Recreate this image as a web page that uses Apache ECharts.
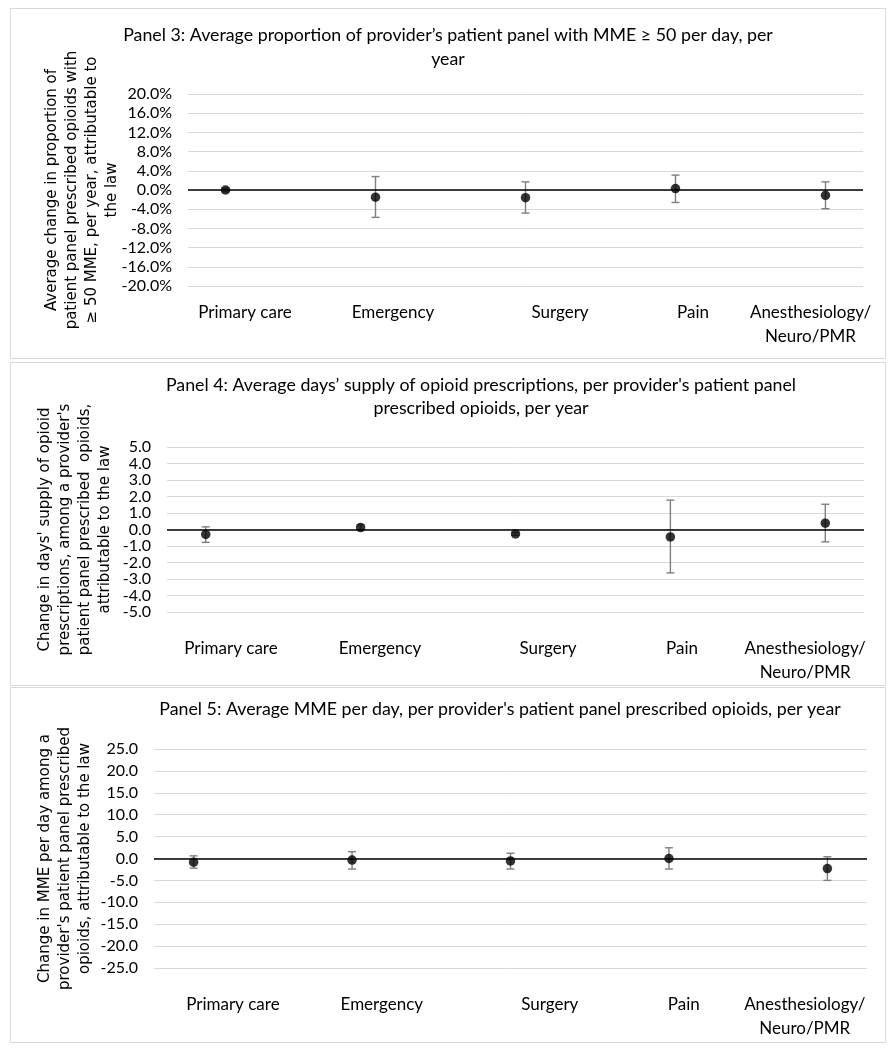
<!DOCTYPE html>
<html>
<head>
<meta charset="utf-8">
<script src="https://cdn.jsdelivr.net/npm/echarts@6/dist/echarts.min.js"></script>
<style>
html,body{margin:0;padding:0;background:#fff;}
#chart{width:895px;height:1050px;}
</style>
</head>
<body>
<div id="chart"></div>
<script>
// ---- data ----
const categories = ['Primary care', 'Emergency', 'Surgery', 'Pain', 'Anesthesiology/\nNeuro/PMR'];
const catX = [1, 2, 3, 4, 5];

const p3Title = 'Panel 3: Average proportion of provider\u2019s patient panel with MME \u2265 50 per day, per\nyear';
const p3YName = 'Average change in proportion of\npatient panel prescribed opioids with\n\u2265 50 MME, per year, attributable to\nthe law';
const p3Est = [0.0, -1.5, -1.6, 0.3, -1.1];
const p3Lo  = [-0.4, -5.7, -4.8, -2.6, -3.9];
const p3Hi  = [0.4, 2.8, 1.7, 3.1, 1.7];

const p4Title = 'Panel 4: Average days\u2019 supply of opioid prescriptions, per provider\'s patient panel\nprescribed opioids, per year';
const p4YName = 'Change in days\' supply of opioid\nprescriptions, among a provider\'s\npatient panel prescribed  opioids,\nattributable to the law';
const p4Est = [-0.30, 0.12, -0.27, -0.45, 0.38];
const p4Lo  = [-0.78, -0.02, -0.35, -2.63, -0.75];
const p4Hi  = [0.16, 0.28, -0.18, 1.78, 1.53];

const p5Title = 'Panel 5: Average MME per day, per provider\'s patient panel prescribed opioids, per year';
const p5YName = 'Change in MME per day among a\nprovider\'s patient panel prescribed\nopioids, attributable to the law';
const p5Est = [-0.85, -0.35, -0.55, 0.0, -2.3];
const p5Lo  = [-2.2, -2.4, -2.4, -2.4, -5.0];
const p5Hi  = [0.6, 1.55, 1.2, 2.45, 0.4];

// ---- layout (not data) ----
const CAL = 'Lato';
const VER = 'DejaVu Sans';
const panels = [
  {title: p3Title, yName: p3YName, est: p3Est, lo: p3Lo, hi: p3Hi,
   yMin: -20, yMax: 20, yInt: 4, pct: true,
   grid: {left: 188, top: 94, width: 675, height: 192},
   nameGap: 66, labelMargin: 15,
   labelPos: [1.13, 2.117, 3.23, 4.117, 4.9],
   titleX: 448, titleTop: 23, titleLH: 24,
   box: [10.5, 8.5, 875, 350]},
  {title: p4Title, yName: p4YName, est: p4Est, lo: p4Lo, hi: p4Hi,
   yMin: -5, yMax: 5, yInt: 1, pct: false,
   grid: {left: 167, top: 447, width: 697, height: 165},
   nameGap: 52, labelMargin: 25,
   labelPos: [1.163, 2.125, 3.21, 4.075, 4.87],
   titleX: 481, titleTop: 373.5, titleLH: 23,
   box: [10.5, 362.5, 875, 323]},
  {title: p5Title, yName: p5YName, est: p5Est, lo: p5Lo, hi: p5Hi,
   yMin: -25, yMax: 25, yInt: 5, pct: false,
   grid: {left: 154, top: 749, width: 713, height: 219},
   nameGap: 59, labelMargin: 25,
   labelPos: [1.248, 2.188, 3.248, 4.094, 4.857],
   titleX: 500, titleTop: 698, titleLH: 23,
   box: [10.5, 687.5, 875, 355]}
];

const grids = [], xAxes = [], yAxes = [], series = [], graphics = [];
panels.forEach((p, i) => {
  grids.push(Object.assign({containLabel: false}, p.grid));
  xAxes.push({
    type: 'value', gridIndex: i, min: 0.75, max: 5.25,
    axisLine: {show: false, onZero: false}, axisTick: {show: false}, splitLine: {show: false},
    axisLabel: {
      customValues: p.labelPos,
      margin: p.labelMargin,
      fontFamily: CAL, fontSize: 17, color: '#000', lineHeight: 24, align: 'center',
      formatter: function (v) {
        let best = 0, bd = Infinity;
        p.labelPos.forEach((q, k) => { const d = Math.abs(q - v); if (d < bd) { bd = d; best = k; } });
        return categories[best];
      }
    }
  });
  yAxes.push({
    type: 'value', gridIndex: i, min: p.yMin, max: p.yMax, interval: p.yInt,
    axisLine: {show: false}, axisTick: {show: false},
    splitLine: {lineStyle: {color: '#d9d9d9', width: 1}},
    axisLabel: {
      margin: 16, fontFamily: CAL, fontSize: 16, color: '#000',
      formatter: v => p.pct ? v.toFixed(1) + '%' : v.toFixed(1)
    },
    name: p.yName, nameLocation: 'middle', nameRotate: 90, nameGap: p.nameGap,
    nameMoveOverlap: false,
    nameTextStyle: {fontFamily: VER, fontSize: 15, lineHeight: 20, color: '#000', align: 'center'}
  });
  const ebData = catX.map((x, k) => [x, p.lo[k], p.hi[k]]);
  series.push({
    type: 'custom', xAxisIndex: i, yAxisIndex: i, z: 2, silent: true,
    data: ebData, encode: {x: 0, y: [1, 2]},
    renderItem: function (params, api) {
      const x = api.value(0);
      const top = api.coord([x, api.value(2)]);
      const bot = api.coord([x, api.value(1)]);
      const st = {stroke: '#7f7f7f', lineWidth: 1.4};
      return {type: 'group', children: [
        {type: 'line', shape: {x1: top[0], y1: top[1], x2: bot[0], y2: bot[1]}, style: st},
        {type: 'line', shape: {x1: top[0] - 4, y1: top[1], x2: top[0] + 4, y2: top[1]}, style: st},
        {type: 'line', shape: {x1: bot[0] - 4, y1: bot[1], x2: bot[0] + 4, y2: bot[1]}, style: st}
      ]};
    },
    markLine: {
      silent: true, symbol: ['none', 'none'], animation: false,
      label: {show: false},
      lineStyle: {color: '#000', width: 1.7, type: 'solid'},
      emphasis: {disabled: true},
      data: [{yAxis: 0}]
    }
  });
  series.push({
    type: 'scatter', xAxisIndex: i, yAxisIndex: i, z: 5,
    symbol: 'circle', symbolSize: 9.5,
    itemStyle: {color: '#000'},
    data: catX.map((x, k) => [x, p.est[k]])
  });
  graphics.push({
    type: 'rect', silent: true,
    shape: {x: p.box[0], y: p.box[1], width: p.box[2], height: p.box[3]},
    style: {fill: 'none', stroke: '#d9d9d9', lineWidth: 1}
  });
  graphics.push({
    type: 'text', silent: true, x: p.titleX, y: p.titleTop,
    style: {text: p.title, align: 'center', verticalAlign: 'top',
            font: '17.8px ' + CAL, lineHeight: p.titleLH, fill: '#000'}
  });
});

const chart = echarts.init(document.getElementById('chart'), null, {renderer: 'canvas'});
chart.setOption({
  animation: false,
  backgroundColor: '#fff',
  grid: grids, xAxis: xAxes, yAxis: yAxes, series: series,
  graphic: graphics
});
</script>
</body>
</html>
